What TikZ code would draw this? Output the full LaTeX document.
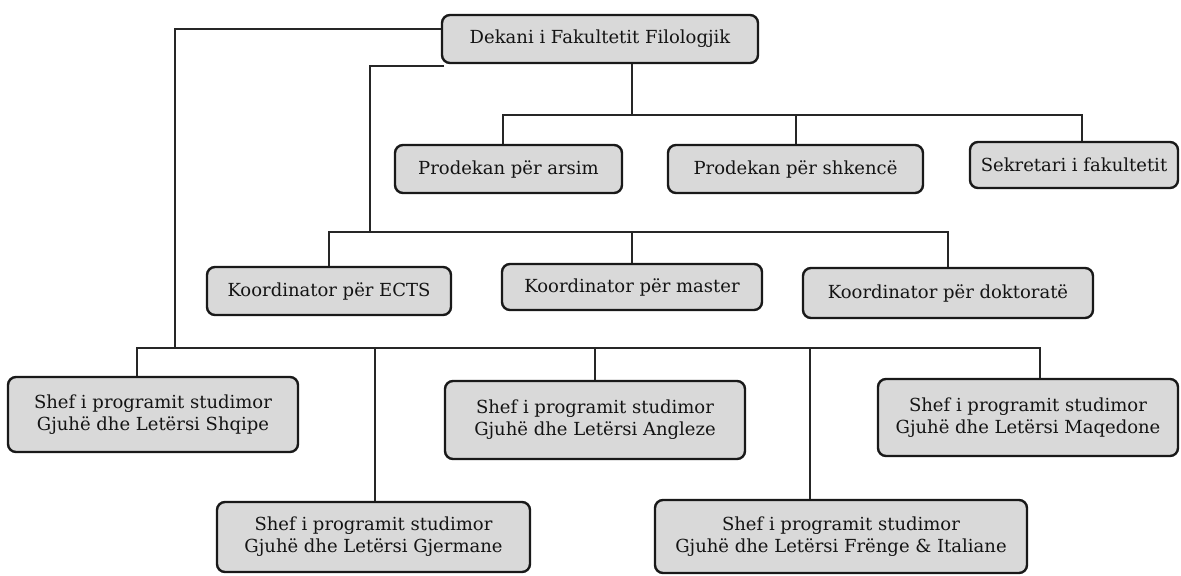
\documentclass[tikz,border=0pt]{standalone}
\usepackage{fontspec}
\setmainfont{DejaVu Serif}
\begin{document}
\begin{tikzpicture}[x=0.75pt,y=-0.75pt,
  box/.style={draw=black!90, line width=1.8pt, rounded corners=6pt, fill=boxgray,
    align=center, inner sep=0pt, text=black!92,
    font=\fontsize{13.5}{16.5}\selectfont},
  conn/.style={draw=black!85, line width=1.1pt}]
\definecolor{boxgray}{HTML}{D9D9D9}
\useasboundingbox (0,0) rectangle (1181,575);
% top
\node[box, minimum width=237pt, minimum height=36pt] (dekani) at (600,39) {Dekani i Fakultetit Filologjik};
\node[box, minimum width=170.25pt, minimum height=36pt] (arsim) at (508.5,169) {Prodekan për arsim};
\node[box, minimum width=191.25pt, minimum height=36pt] (shkence) at (795.5,169) {Prodekan për shkencë};
\node[box, minimum width=156pt, minimum height=34.5pt] (sekretari) at (1074,165) {Sekretari i fakultetit};
% coordinators
\node[box, minimum width=183pt, minimum height=36pt] (ects) at (329,291) {Koordinator për ECTS};
\node[box, minimum width=195pt, minimum height=34.5pt] (master) at (632,287) {Koordinator për master};
\node[box, minimum width=217.5pt, minimum height=37.5pt] (doktorate) at (948,293) {Koordinator për doktoratë};
% heads of programmes
\node[box, minimum width=217.5pt, minimum height=56.25pt] (shqipe) at (153,414.5) {Shef i programit studimor\\Gjuhë dhe Letërsi Shqipe};
\node[box, minimum width=225pt, minimum height=58.5pt] (angleze) at (595,420) {Shef i programit studimor\\Gjuhë dhe Letërsi Angleze};
\node[box, minimum width=225pt, minimum height=57.75pt] (maqedone) at (1028,417.5) {Shef i programit studimor\\Gjuhë dhe Letërsi Maqedone};
\node[box, minimum width=234.75pt, minimum height=52.5pt] (gjermane) at (373.5,537) {Shef i programit studimor\\Gjuhë dhe Letërsi Gjermane};
\node[box, minimum width=279pt, minimum height=54.75pt] (frenge) at (841,536.5) {Shef i programit studimor\\Gjuhë dhe Letërsi Frënge \& Italiane};
% junction coordinates
\coordinate (b0) at (632,115);
\coordinate (b1) at (370,232);
\coordinate (b2) at (175,348);
% connectors
\draw[conn] ([yshift=7.5pt]dekani.west) -| (b2);
\draw[conn] ([xshift=2.5pt,yshift=-1.5pt]dekani.south west) -| (b1);
\draw[conn] ([xshift=24pt]dekani.south) -- (b0);
\draw[conn] ([xshift=-4pt]arsim.north) |- (b0) -| ([xshift=6pt]sekretari.north);
\draw[conn] ([xshift=0.375pt]shkence.north) -- ([xshift=0.375pt]shkence.north |- b0);
\draw[conn] (ects.north) |- (b1) -| (doktorate.north);
\draw[conn] (master.north) -- (master.north |- b1);
\draw[conn] ([xshift=-12pt]shqipe.north) |- (b2) -| ([xshift=9pt]maqedone.north);
\draw[conn] (angleze.north) -- (angleze.north |- b2);
\draw[conn] ([xshift=1.125pt]gjermane.north) -- ([xshift=1.125pt]gjermane.north |- b2);
\draw[conn] ([xshift=-23.25pt]frenge.north) -- ([xshift=-23.25pt]frenge.north |- b2);
\end{tikzpicture}
\end{document}
